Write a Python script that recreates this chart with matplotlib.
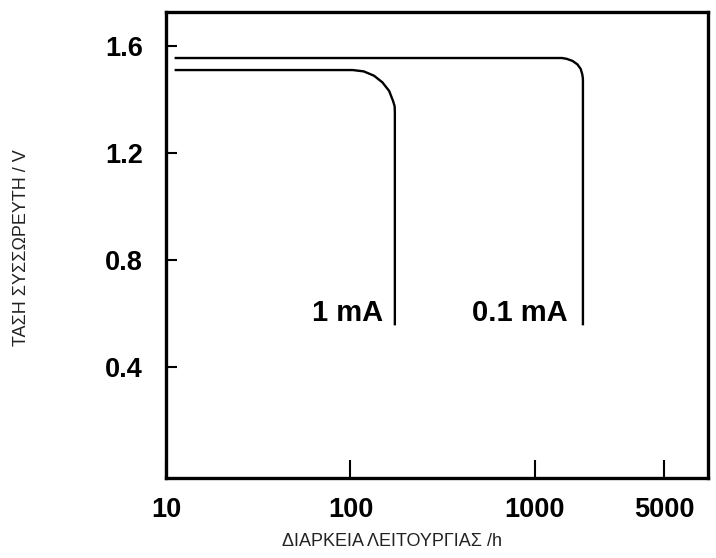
import matplotlib.pyplot as plt

# discharge curves (hours, volts)
hours_1ma = [11.3, 103, 118, 134, 149, 162, 170, 173.5, 174, 174]
volts_1ma = [1.51, 1.51, 1.505, 1.489, 1.464, 1.432, 1.395, 1.375, 1.353, 0.56]

hours_01ma = [11.3, 1400, 1485, 1600, 1700, 1770, 1805, 1818, 1820, 1820]
volts_01ma = [1.555, 1.555, 1.552, 1.544, 1.531, 1.514, 1.494, 1.48, 1.47, 0.56]

curve_labels = ['1 mA', '0.1 mA']
label_pos = [(150, 0.60), (1510, 0.60)]

xticks = [10, 100, 1000, 5000]
xtick_labels = ['10', '100', '1000', '5000']
yticks = [0.4, 0.8, 1.2, 1.6]
ytick_labels = ['0.4', '0.8', '1.2', '1.6']

fig = plt.figure(figsize=(7.16, 5.58), dpi=100)
ax = fig.add_axes([166 / 716, 1 - 478 / 558, (708 - 166) / 716, (478 - 12) / 558])

ax.plot(hours_1ma, volts_1ma, color='black', lw=1.7, solid_joinstyle='round')
ax.plot(hours_01ma, volts_01ma, color='black', lw=1.7, solid_joinstyle='round')

for txt, (hx, vy) in zip(curve_labels, label_pos):
    ax.text(hx, vy, txt, ha='right', va='center', fontsize=21,
            fontweight='bold', family='Liberation Sans')

ax.set_xscale('log')
ax.set_xlim(10, 8670)
ax.set_ylim(-0.015, 1.727)
ax.set_xticks(xticks)
ax.set_xticklabels(xtick_labels)
ax.set_yticks(yticks)
ax.set_yticklabels(ytick_labels)
ax.minorticks_off()

ax.tick_params(axis='x', direction='in', length=13, width=1.5, pad=13.5)
ax.tick_params(axis='y', direction='in', length=8, width=1.5, pad=16.5)
for lab in ax.get_xticklabels() + ax.get_yticklabels():
    lab.set_fontsize(19.5)
    lab.set_fontweight('bold')
    lab.set_family('Liberation Sans')

for s in ax.spines.values():
    s.set_linewidth(2.4)

fig.text(392 / 716, 1 - 542 / 558, 'ΔΙΑΡΚΕΙΑ ΛΕΙΤΟΥΡΓΙΑΣ /h', ha='center', va='center',
         fontsize=13, color='#222222', family='Liberation Sans')
fig.text(22 / 716, 1 - 248 / 558, 'ΤΑΣΗ ΣΥΣΣΩΡΕΥΤΗ / V', ha='center', va='center',
         rotation=90, fontsize=13, color='#222222', family='Liberation Sans')

fig.savefig('out.png', dpi=100)
